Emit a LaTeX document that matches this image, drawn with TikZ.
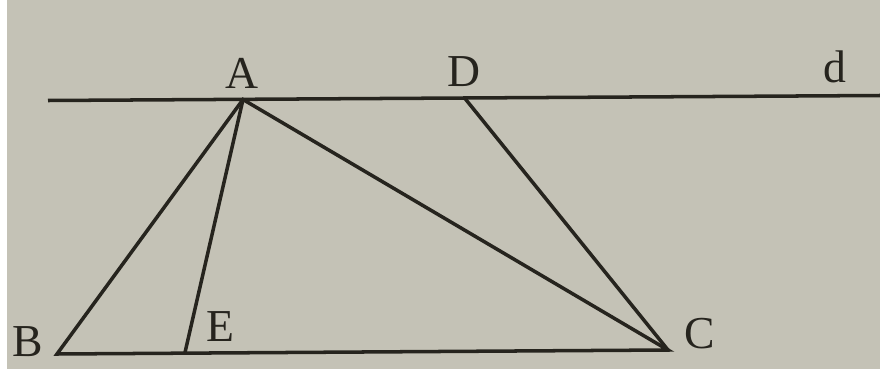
\documentclass[tikz,border=0pt]{standalone}
\usepackage{fontspec}
\setmainfont{Liberation Serif}
\usepackage{xcolor}
\usepackage{tikz}
\definecolor{paper}{RGB}{196,194,182}
\definecolor{ink}{RGB}{38,36,30}

\begin{document}
\begin{tikzpicture}[line width=2pt,
  lbl/.style={ink,font=\fontsize{26}{29}\selectfont}]
  \fill[white](0,0)rectangle(17.6,7.38);
  \fill[paper](0.15,0)rectangle(17.6,7.38);
  \useasboundingbox(0,0)rectangle(17.6,7.38);
  % line d and the points on it
  \coordinate (dl) at (0.96,5.37);
  \coordinate (dr) at (17.6,5.47);
  \coordinate (A) at (4.86,5.39);
  \coordinate (D) at (9.30,5.41);
  % base
  \coordinate (B) at (1.14,0.30);
  \coordinate (E) at (3.70,0.33);
  \coordinate (C) at (13.36,0.38);
  \draw[ink](dl)--(dr);
  \draw[ink,line join=miter](A)--(B)--(C)--cycle;
  \draw[ink](A)--(E); \draw[ink](D)--(C);
  \node[lbl] (lA) at (4.84,5.92) {A};
  \node[lbl] (lD) at (9.28,5.94) {D};
  \node[lbl] (ld) at (16.70,6.04) {d};
  \node[lbl] (lB) at (0.56,0.54) {B};
  \node[lbl] (lE) at (4.40,0.84) {E};
  \node[lbl] (lC) at (14.00,0.70) {C};
\end{tikzpicture}
\end{document}
